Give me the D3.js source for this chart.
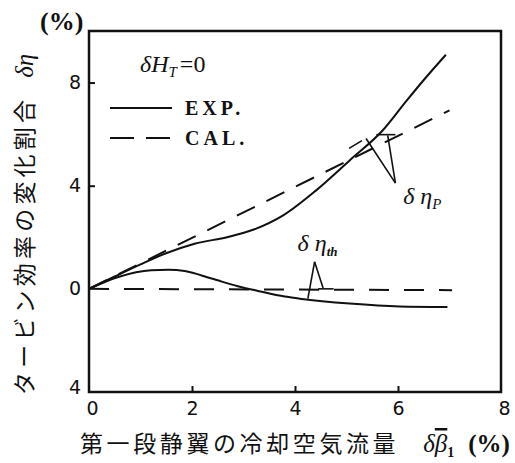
<!DOCTYPE html>
<html>
<head>
<meta charset="utf-8">
<script src="https://cdn.jsdelivr.net/npm/d3@7"></script>
<style>
  html, body { margin: 0; padding: 0; background: #fff; }
  svg { display: block; }
</style>
</head>
<body>
<svg id="chart" width="515" height="463"></svg>
<script>
// Turbine efficiency change vs. first-stage vane cooling air flow
const xTicks = [0, 2, 4, 6, 8];
const yTicks = [-4, 0, 4, 8];
const yTickLabels = ["4", "0", "4", "8"];

// δη_P, experimental (solid)
const etaPExp = [
  [0, 0], [0.5, 0.48], [1.0, 0.95], [1.47, 1.36], [2.05, 1.75], [2.7, 2.01],
  [3.2, 2.3], [3.77, 2.85], [4.41, 3.82], [5.06, 4.98], [5.7, 6.14],
  [6.16, 7.28], [6.5, 8.1], [6.93, 9.08]
];
// δη_P, calculated (dashed)
const etaPCal = [[0, 0], [7.0, 6.92]];
// δη_th, experimental (solid)
const etaThExp = [
  [0, 0], [0.57, 0.46], [1.21, 0.72], [1.54, 0.74], [1.86, 0.69], [2.38, 0.4],
  [2.89, 0.1], [3.28, -0.08], [3.8, -0.3], [4.09, -0.38], [5.06, -0.57],
  [6.03, -0.68], [6.96, -0.7]
];
// δη_th, calculated (dashed)
const etaThCal = [[0, 0], [7.05, -0.05]];

const svg = d3.select("#chart");
const x = d3.scaleLinear().domain([0, 8]).range([89, 501]);
const y = d3.scaleLinear().domain([-4, 10]).range([392, 31]);

const ink = "#111";
const line = d3.line().x(d => x(d[0])).y(d => y(d[1])).curve(d3.curveMonotoneX);

// frame
svg.append("rect")
  .attr("x", x(0)).attr("y", y(10))
  .attr("width", x(8) - x(0)).attr("height", y(-4) - y(10))
  .attr("fill", "none").attr("stroke", ink).attr("stroke-width", 2.5);

const tickFont = "'DejaVu Sans', 'Liberation Sans', sans-serif";

// x axis (bottom) with inward ticks
const xAxis = d3.axisBottom(x).tickValues(xTicks).tickSize(-6).tickPadding(10).tickFormat(d3.format("d"));
const gx = svg.append("g").attr("transform", `translate(0,${y(-4)})`).call(xAxis);
gx.select(".domain").remove();
gx.selectAll(".tick line").attr("stroke", ink).attr("stroke-width", 2)
  .filter(d => d === 0 || d === 8).remove();
gx.selectAll(".tick text").attr("fill", ink)
  .style("font-family", tickFont).style("font-size", "19px")
  .attr("dx", d => d === 0 ? 3 : (d === 8 ? 3 : 0));

// y axis (left) with inward ticks
const yAxis = d3.axisLeft(y).tickValues(yTicks).tickSize(-6).tickPadding(8)
  .tickFormat((d, i) => yTickLabels[i]);
const gy = svg.append("g").attr("transform", `translate(${x(0)},0)`).call(yAxis);
gy.select(".domain").remove();
gy.selectAll(".tick line").attr("stroke", ink).attr("stroke-width", 2)
  .filter(d => d === 0 || d === -4).remove();
gy.selectAll(".tick text").attr("fill", ink)
  .style("font-family", tickFont).style("font-size", "19px")
  .attr("dy", d => d === -4 ? "0.1em" : "0.32em");

// curves
const curves = [
  { data: etaPExp, dash: null },
  { data: etaPCal, dash: "20,13" },
  { data: etaThExp, dash: null },
  { data: etaThCal, dash: "20,15" }
];
svg.append("g").selectAll("path").data(curves).join("path")
  .attr("d", d => line(d.data))
  .attr("fill", "none").attr("stroke", ink).attr("stroke-width", 2)
  .attr("stroke-dasharray", d => d.dash);

// leader lines for curve labels
const leaders = [
  [[5.95, 4.1], [5.38, 5.83]],
  [[5.95, 4.1], [5.8, 5.95]],
  [[5.58, 5.98], [5.95, 5.98]],
  [[5.05, 5.45], [5.3, 5.75]],
  [[4.38, 1.05], [4.25, -0.38]],
  [[4.38, 1.05], [4.55, 0.0]],
  [[4.45, 0.0], [4.75, 0.0]]
];
svg.append("g").selectAll("line").data(leaders).join("line")
  .attr("x1", d => x(d[0][0])).attr("y1", d => y(d[0][1]))
  .attr("x2", d => x(d[1][0])).attr("y2", d => y(d[1][1]))
  .attr("stroke", ink).attr("stroke-width", 1.6);

const serif = "'Liberation Serif', 'DejaVu Serif', serif";

// curve labels
const lblP = svg.append("text").attr("x", x(6.1)).attr("y", y(3.3))
  .style("font-family", serif).style("font-size", "24px").style("font-style", "italic").attr("fill", ink);
lblP.append("tspan").text("δ η");
lblP.append("tspan").attr("dy", 5).style("font-size", "15px").text("P");

const lblT = svg.append("text").attr("x", x(4.05)).attr("y", y(1.48))
  .style("font-family", serif).style("font-size", "24px").style("font-style", "italic").attr("fill", ink);
lblT.append("tspan").text("δ η");
lblT.append("tspan").attr("dy", 5).style("font-size", "13px").style("font-weight", "bold").text("th");

// legend
const hT = svg.append("text").attr("x", 140).attr("y", 72)
  .style("font-family", serif).style("font-size", "24px").attr("fill", ink);
hT.append("tspan").style("font-style", "italic").text("δH");
hT.append("tspan").attr("dy", 5).style("font-size", "15px").style("font-style", "italic").text("T");
hT.append("tspan").attr("dy", -5).attr("dx", 3).text("=0");

const legendItems = [
  { label: "EXP.", dash: null, yy: 108 },
  { label: "CAL.", dash: "24,12", yy: 138 }
];
const lg = svg.append("g");
lg.selectAll("line").data(legendItems).join("line")
  .attr("x1", 110).attr("x2", 172).attr("y1", d => d.yy).attr("y2", d => d.yy)
  .attr("stroke", ink).attr("stroke-width", 2).attr("stroke-dasharray", d => d.dash);
lg.selectAll("text").data(legendItems).join("text")
  .attr("x", 185).attr("y", d => d.yy + 7).text(d => d.label)
  .style("font-family", serif).style("font-size", "20px").style("font-weight", "bold")
  .style("letter-spacing", "4px").attr("fill", ink);

// unit on the y axis
svg.append("text").attr("x", 40).attr("y", 30).text("(%)")
  .style("font-family", serif).style("font-size", "26px").style("font-weight", "bold").attr("fill", ink);

// axis titles
const jp = "'Noto Sans CJK JP', sans-serif";
const xt = svg.append("text").attr("x", 80).attr("y", 452)
  .style("font-family", jp).style("font-size", "23px").attr("fill", ink);
xt.append("tspan").style("letter-spacing", "3.6px").text("第一段静翼の冷却空気流量");
xt.append("tspan").attr("dx", 24).style("font-family", serif).style("font-style", "italic").style("font-size", "25px").text("δ");
xt.append("tspan").style("font-family", serif).style("font-style", "italic").style("font-size", "25px").style("text-decoration", "overline").text("β");
xt.append("tspan").attr("dy", 5).style("font-family", serif).style("font-size", "14px").style("font-weight", "bold").text("1");
xt.append("tspan").attr("dy", -5).attr("dx", 14).style("font-family", serif).style("font-size", "25px").style("font-weight", "bold").text("(%)");

const yt = svg.append("text").attr("transform", "translate(33,395) rotate(-90)")
  .style("font-family", jp).style("font-size", "23px").attr("fill", ink);
yt.append("tspan").style("letter-spacing", "4.2px").text("タービン効率の変化割合");
yt.append("tspan").attr("dx", 18).style("font-family", serif).style("font-style", "italic").style("font-size", "25px").text("δη");
</script>
</body>
</html>
